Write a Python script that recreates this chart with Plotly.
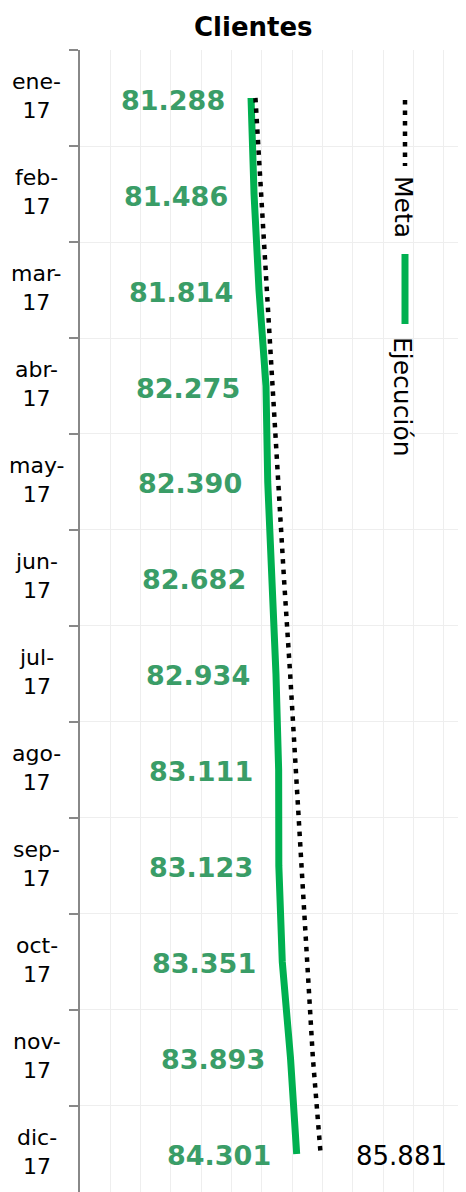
import plotly.graph_objects as go

months = ["ene-17", "feb-17", "mar-17", "abr-17", "may-17", "jun-17",
          "jul-17", "ago-17", "sep-17", "oct-17", "nov-17", "dic-17"]
ejecucion = [81288, 81486, 81814, 82275, 82390, 82682,
             82934, 83111, 83123, 83351, 83893, 84301]
meta = [81580, 81950, 82310, 82690, 83060, 83460,
        83870, 84230, 84600, 84990, 85370, 85881]

OFF = 8  # page body margin
W, H = 466 - OFF, 1192 - OFF
L, T = 80 - OFF, 50 - OFF
GREEN = "#00b050"
LABEL_GREEN = "#3a9d67"
FONT = "DejaVu Sans"

def fmt(v):
    return f"{v:,}".replace(",", ".")

def px(x):  # screen x -> paper x
    return (x - OFF - L) / (W - L)

def py(y):  # screen y -> paper y
    return (H - (y - OFF)) / (H - T)

fig = go.Figure()
fig.add_trace(go.Scatter(x=ejecucion, y=months, mode="lines", name="Ejecución",
                         line=dict(color=GREEN, width=7), showlegend=False))
fig.add_trace(go.Scatter(x=meta, y=months, mode="lines", name="Meta",
                         line=dict(color="black", width=4.5, dash="4.5px,6px"),
                         showlegend=False))

ann = []
for m, v in zip(months, ejecucion):
    ann.append(dict(x=v, y=m, xref="x", yref="y", text=fmt(v), showarrow=False,
                    xanchor="right", yanchor="middle", xshift=-24, yshift=-2,
                    font=dict(family=FONT, size=27, color=LABEL_GREEN, weight="bold")))
ann.append(dict(x=meta[-1], y=months[-1], xref="x", yref="y", text=fmt(meta[-1]),
                showarrow=False, xanchor="left", yanchor="middle", xshift=33, yshift=-2,
                font=dict(family=FONT, size=26, color="black")))
for m in months:
    a, b = m.split("-")
    ann.append(dict(x=px(36.5), y=m, xref="paper", yref="y",
                    text=f"{a}-<br>{b}", showarrow=False, align="center",
                    xanchor="center", yanchor="middle", yshift=2,
                    font=dict(family=FONT, size=22, color="black")))
ann.append(dict(x=px(253), y=py(27), xref="paper", yref="paper",
                text="<b>Clientes</b>", showarrow=False, xanchor="center", yanchor="middle",
                font=dict(family=FONT, size=26, color="black")))

ann.append(dict(x=px(403), y=py(207), xref="paper", yref="paper", text="Meta",
                textangle=90, showarrow=False, xanchor="center", yanchor="middle",
                font=dict(family=FONT, size=25, color="black")))
ann.append(dict(x=px(403), y=py(397), xref="paper", yref="paper", text="Ejecución",
                textangle=90, showarrow=False, xanchor="center", yanchor="middle",
                font=dict(family=FONT, size=25, color="black")))
shapes = [
    dict(type="line", xref="paper", yref="paper", x0=px(405), x1=px(405),
         y0=py(100), y1=py(166), line=dict(color="black", width=4.5, dash="4.5px,6px")),
    dict(type="line", xref="paper", yref="paper", x0=px(405), x1=px(405),
         y0=py(254), y1=py(324), line=dict(color=GREEN, width=7)),
]

fig.update_layout(
    width=W, height=H,
    margin=dict(l=L, r=0, t=T, b=0),
    plot_bgcolor="white", paper_bgcolor="white",
    annotations=ann, shapes=shapes,
    xaxis=dict(range=[70000, 70000 + (W - L) * 66.0], dtick=2000, tick0=70000,
               showticklabels=False, showgrid=True, gridcolor="#eeeeee", gridwidth=1,
               zeroline=False, showline=False, ticks=""),
    yaxis=dict(type="category", categoryorder="array", categoryarray=months,
               range=[11.396, -0.5], showticklabels=False, tickson="boundaries",
               ticks="outside", ticklen=9, tickcolor="#888888", tickwidth=1.5,
               showline=True, linecolor="#888888", linewidth=1.5,
               showgrid=True, gridcolor="#eeeeee", gridwidth=1, zeroline=False),
)

fig.write_html("out.html")
